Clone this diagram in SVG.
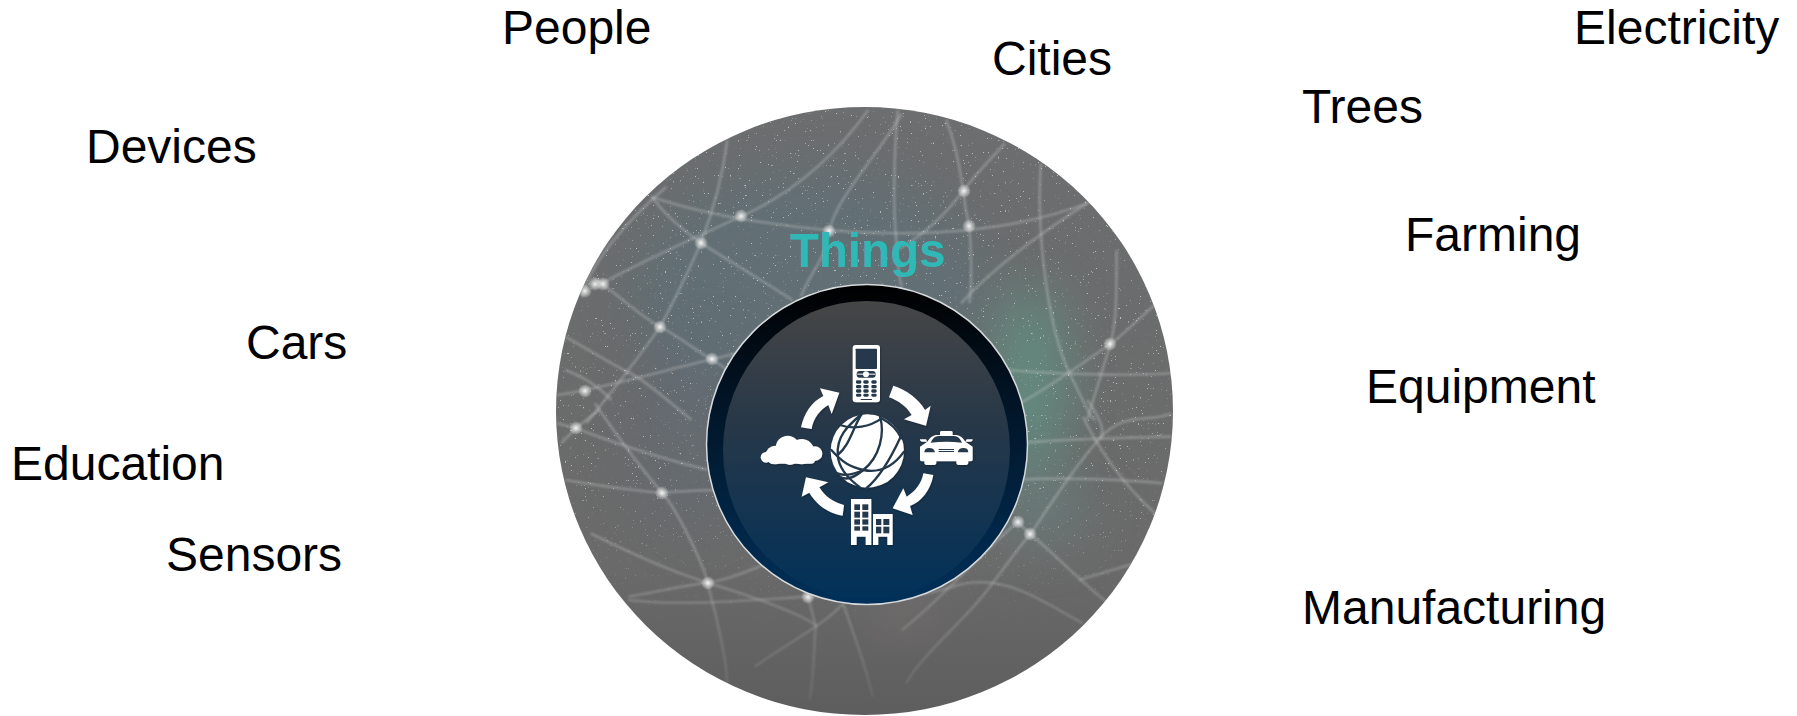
<svg xmlns="http://www.w3.org/2000/svg" width="1797" height="716" viewBox="0 0 1797 716">
<style>
.lbl{font-family:"Liberation Sans",Arial,sans-serif;font-size:48px;fill:#000}
.net{fill:none;stroke:#c8cacb;stroke-width:2.6;stroke-opacity:.36;vector-effect:non-scaling-stroke}
.ic{fill:#fff}
.dk{fill:#26394b}
.gl{fill:none;stroke:#24394c;stroke-width:7;stroke-linecap:round}
</style>
<defs>
<clipPath id="outerClip"><ellipse cx="864.5" cy="411" rx="308.5" ry="304"/></clipPath>
<linearGradient id="ringG" x1="0" y1="0" x2="0" y2="1"><stop offset="0" stop-color="#000"/><stop offset=".35" stop-color="#021425"/><stop offset="1" stop-color="#00305a"/></linearGradient>
<linearGradient id="discG" x1="0" y1="0" x2="0" y2="1"><stop offset="0" stop-color="#464646"/><stop offset=".4" stop-color="#283848"/><stop offset="1" stop-color="#013159"/></linearGradient>
<linearGradient id="baseG" x1="0" y1="0" x2="0" y2="1"><stop offset="0" stop-color="#6c6e6f"/><stop offset=".75" stop-color="#6a6a6a"/><stop offset="1" stop-color="#5d5d5d"/></linearGradient>
<linearGradient id="fadeG" x1="0" y1="0" x2="0" y2="1"><stop offset="0" stop-color="#fff"/><stop offset=".6" stop-color="#fff"/><stop offset=".85" stop-color="#000"/></linearGradient>
<linearGradient id="fade2G" x1="0" y1="0" x2="0" y2="1"><stop offset="0" stop-color="#fff"/><stop offset=".72" stop-color="#fff"/><stop offset="1" stop-color="#333"/></linearGradient>
<mask id="starMask"><rect x="550" y="100" width="630" height="620" fill="url(#fadeG)"/></mask>
<mask id="netMask"><rect x="550" y="100" width="630" height="620" fill="url(#fade2G)"/></mask>
<radialGradient id="dotG"><stop offset="0" stop-color="#fff" stop-opacity=".9"/><stop offset=".45" stop-color="#e8e8e8" stop-opacity=".6"/><stop offset="1" stop-color="#fff" stop-opacity="0"/></radialGradient>
<filter id="stars" x="0" y="0" width="1" height="1"><feTurbulence type="fractalNoise" baseFrequency=".6" numOctaves="2" seed="11"/><feColorMatrix type="matrix" values="0 0 0 0 1  0 0 0 0 1  0 0 0 0 1  7 7 0 0 -9.35"/></filter>
<filter id="b30" x="-60%" y="-60%" width="220%" height="220%"><feGaussianBlur stdDeviation="26"/></filter>
<filter id="b1"><feGaussianBlur stdDeviation=".8"/></filter>
<filter id="sh" x="-10%" y="-10%" width="125%" height="125%"><feDropShadow dx="2" dy="3" stdDeviation="3" flood-color="#000" flood-opacity=".3"/></filter>
<symbol id="dot" overflow="visible"><circle r="7" fill="url(#dotG)"/></symbol>
</defs>

<g id="outer-disc" clip-path="url(#outerClip)">
<rect x="550" y="100" width="630" height="620" fill="url(#baseG)"/>
<ellipse cx="810" cy="290" rx="180" ry="120" fill="#5f7178" opacity=".7" filter="url(#b30)"/>
<ellipse cx="1030" cy="385" rx="38" ry="100" fill="#5fa08c" opacity=".6" filter="url(#b30)"/>
<ellipse cx="690" cy="430" rx="60" ry="100" fill="#5e6c78" opacity=".4" filter="url(#b30)"/>
<ellipse cx="1040" cy="510" rx="50" ry="40" fill="#6c8f8a" opacity=".4" filter="url(#b30)"/>
<ellipse cx="905" cy="615" rx="35" ry="18" fill="#8a7878" opacity=".4" filter="url(#b30)"/>
<rect x="550" y="100" width="630" height="620" filter="url(#stars)" mask="url(#starMask)" opacity=".55"/>
<g mask="url(#netMask)" filter="url(#b1)">
<g transform="translate(540 90) scale(.4209 .3333)">
<path class="net" d="M265 320C400 380 650 430 850 430S1200 390 1310 335"/>
<path class="net" d="M445 150C430 300 400 400 382 458S300 680 285 710S200 860 110 1000"/>
<path class="net" d="M780 60C700 200 600 310 477 380S250 510 150 578"/>
<path class="net" d="M860 70C800 200 700 330 688 423S640 550 620 620"/>
<path class="net" d="M850 60C840 200 840 350 845 430S850 560 860 590"/>
<path class="net" d="M965 90C990 170 1000 250 1005 303S1020 408 1020 408S1030 560 1020 640"/>
<path class="net" d="M1105 160C1060 220 1030 260 1005 303S930 420 850 480"/>
<path class="net" d="M265 320C300 380 350 430 382 458S500 550 600 630"/>
<path class="net" d="M130 565C200 630 240 680 285 710S380 790 410 810S480 880 520 930"/>
<path class="net" d="M60 740C130 790 180 830 215 850S330 960 360 990"/>
<path class="net" d="M40 915C130 900 300 840 408 808S450 790 480 770"/>
<path class="net" d="M1190 220C1180 400 1200 700 1260 855S1310 980 1320 990"/>
<path class="net" d="M1370 480C1370 600 1370 700 1355 762S1310 950 1300 990"/>
<path class="net" d="M1460 645C1420 690 1380 740 1355 762S1200 900 1140 940"/>
<path class="net" d="M1300 340C1200 420 1080 530 1000 640"/>
<path class="net" d="M1110 840C1200 850 1400 860 1500 850"/>
<path class="net" d="M300 290C200 400 120 520 100 620"/>
<path class="net" d="M60 840C100 860 130 880 170 930"/>
</g>
<g transform="translate(540 400) scale(.4209 .3333)">
<path class="net" d="M40 70L85 85C200 140 300 180 400 210"/>
<path class="net" d="M130 10C190 120 250 220 290 278S390 500 398 548S440 730 445 850"/>
<path class="net" d="M50 130L85 85L140 30"/>
<path class="net" d="M60 240C150 260 250 275 290 278C330 275 380 270 430 270"/>
<path class="net" d="M120 400C200 450 300 510 398 548S620 640 660 680"/>
<path class="net" d="M210 590C300 570 350 555 398 548S500 510 540 490"/>
<path class="net" d="M210 600C350 620 500 600 637 590S860 610 980 560S1200 610 1290 670"/>
<path class="net" d="M637 590L655 680C650 750 650 850 640 900"/>
<path class="net" d="M720 610C750 720 780 820 790 890"/>
<path class="net" d="M720 610C680 670 600 720 510 800"/>
<path class="net" d="M1135 365C1000 520 950 600 860 690"/>
<path class="net" d="M1165 403C1230 470 1280 540 1350 610"/>
<path class="net" d="M1165 403C1130 450 1080 550 1030 620S900 780 870 850"/>
<path class="net" d="M1135 365L1165 403C1220 300 1270 200 1330 115S1450 70 1500 40"/>
<path class="net" d="M1290 50C1320 130 1380 250 1470 350"/>
<path class="net" d="M1130 240C1250 230 1400 240 1480 250"/>
<path class="net" d="M1140 130C1200 120 1330 115 1500 110"/>
<path class="net" d="M1300 0C1330 50 1345 100 1330 115"/>
<path class="net" d="M1280 540L1440 480"/>
</g>
</g>
<g id="net-dots">
<use href="#dot" x="741" y="216"/><use href="#dot" x="701" y="243"/><use href="#dot" x="829" y="231"/><use href="#dot" x="964" y="191"/>
<use href="#dot" x="969" y="226"/><use href="#dot" x="660" y="327"/><use href="#dot" x="712" y="359"/><use href="#dot" x="585" y="291"/>
<use href="#dot" x="595" y="284"/><use href="#dot" x="603" y="284"/><use href="#dot" x="585" y="391"/><use href="#dot" x="1110" y="344"/>
<use href="#dot" x="576" y="428"/><use href="#dot" x="662" y="493"/><use href="#dot" x="708" y="583"/><use href="#dot" x="808" y="597"/>
<use href="#dot" x="1018" y="522"/><use href="#dot" x="1030" y="534"/>
</g>
</g>

<g id="things-label"><text x="790" y="267" font-family="'Liberation Sans',Arial,sans-serif" font-size="47.5" font-weight="700" fill="#2fb8b6">Things</text></g>

<g id="inner-disc">
<ellipse cx="867" cy="444.5" rx="160.5" ry="160" fill="url(#ringG)" stroke="#d6dadc" stroke-width="1.5"/>
<ellipse cx="866.5" cy="450" rx="143.5" ry="149" fill="url(#discG)"/>
</g>

<g id="icons" transform="translate(690 270) scale(.33333)" filter="url(#sh)">
<g id="phone">
<rect class="ic" x="488" y="225" width="82" height="172" rx="9"/>
<rect class="dk" x="497" y="236" width="64" height="61" rx="2"/>
<rect class="dk" x="500" y="303" width="57" height="20" rx="9"/>
<circle class="ic" cx="528" cy="313" r="9"/><rect class="ic" x="502" y="311" width="54" height="3"/>
<g class="dk"><rect x="498" y="331" width="16" height="10" rx="4"/><rect x="520" y="331" width="16" height="10" rx="4"/><rect x="544" y="331" width="16" height="10" rx="4"/>
<rect x="498" y="345" width="16" height="10" rx="4"/><rect x="520" y="345" width="16" height="10" rx="4"/><rect x="544" y="345" width="16" height="10" rx="4"/>
<rect x="498" y="358" width="16" height="10" rx="4"/><rect x="520" y="358" width="16" height="10" rx="4"/><rect x="544" y="358" width="16" height="10" rx="4"/>
<rect x="498" y="371" width="16" height="9" rx="4"/><rect x="520" y="371" width="16" height="9" rx="4"/><rect x="544" y="371" width="16" height="9" rx="4"/>
<rect x="512" y="387" width="34" height="3"/></g>
</g>
<g id="arrows">
<path class="ic" d="M610 347C650 360 685 385 705 420L722 407L708 467L642 448L665 435C650 410 625 392 597 382Z"/>
<path class="ic" d="M730 615C722 660 695 695 660 708L668 735L608 715L640 655L650 680C675 665 695 640 700 610Z"/>
<path class="ic" d="M462 705L458 737C415 730 380 705 358 668L335 680L348 622L415 637L388 652C405 680 430 697 462 705Z"/>
<path class="ic" d="M333 472C342 430 365 395 400 378L390 355L448 368L425 432L415 405C390 420 370 445 365 477Z"/>
</g>
<g id="globe">
<circle class="ic" cx="532" cy="543" r="110"/>
<path class="gl" d="M515 432C470 470 440 500 443 555C446 600 480 630 510 652"/>
<path class="gl" d="M570 440C585 490 570 560 520 600C495 620 470 635 450 620"/>
<path class="gl" d="M450 465C490 480 540 470 575 445C595 455 620 475 634 505"/>
<path class="gl" d="M424 540C460 580 480 590 520 600C570 610 610 590 642 545"/>
<path class="gl" d="M632 500C600 570 570 620 530 654"/>
<path class="gl" d="M442 610C470 620 490 612 520 600"/>
<path class="gl" d="M443 555C480 525 490 470 515 432"/>
</g>
<g id="cloud" class="ic">
<circle cx="228" cy="562" r="16"/><circle cx="255" cy="555" r="28"/><circle cx="293" cy="533" r="36"/><circle cx="335" cy="545" r="38"/><circle cx="375" cy="551" r="22"/><circle cx="300" cy="560" r="25"/><rect x="235" y="555" width="140" height="26" rx="12"/>
</g>
<g id="car">
<path class="ic" d="M750 495V487Q750 483 755 483H783Q788 483 788 487V495H800Q815 497 826 515L848 530V570Q848 574 838 574H835V578Q835 585 825 585H808Q799 585 799 578V574H739V578Q739 585 730 585H712Q703 585 703 578V574H700Q690 574 690 570V530L712 515Q723 497 738 495Z"/>
<path class="ic" d="M690 508H708L712 515H695Q688 512 690 508ZM830 508H848Q850 512 843 515H826Z"/>
<path class="dk" d="M722 518Q730 499 745 498H793Q808 499 816 518Q769 513 722 518Z"/>
<path class="dk" d="M703 547Q703 534 718 534Q732 534 735 547ZM803 547Q806 534 820 534Q835 534 835 547Z"/>
<rect class="dk" x="746" y="537" width="46" height="3"/><rect class="dk" x="746" y="543" width="46" height="3"/>
</g>
<g id="buildings">
<path class="ic" d="M483 687H544V825H527V800H500V825H483Z"/>
<path class="ic" d="M549 732H608V825H592V800H565V825H549Z"/>
<g class="dk"><rect x="493" y="703" width="17" height="17"/><rect x="517" y="703" width="18" height="17"/><rect x="493" y="725" width="17" height="18"/><rect x="517" y="725" width="18" height="18"/><rect x="493" y="748" width="17" height="16"/><rect x="517" y="748" width="18" height="16"/><rect x="493" y="769" width="17" height="13"/><rect x="517" y="769" width="18" height="13"/>
<rect x="558" y="747" width="16" height="18"/><rect x="580" y="747" width="18" height="18"/><rect x="558" y="770" width="16" height="20"/><rect x="580" y="770" width="18" height="20"/></g>
</g>
</g>

<g id="label-people"><text class="lbl" x="502" y="44">People</text></g>
<g id="label-cities"><text class="lbl" x="992" y="75">Cities</text></g>
<g id="label-electricity"><text class="lbl" x="1574" y="44">Electricity</text></g>
<g id="label-trees"><text class="lbl" x="1302" y="123">Trees</text></g>
<g id="label-devices"><text class="lbl" x="86" y="163">Devices</text></g>
<g id="label-farming"><text class="lbl" x="1405" y="251">Farming</text></g>
<g id="label-cars"><text class="lbl" x="246" y="359">Cars</text></g>
<g id="label-equipment"><text class="lbl" x="1366" y="403">Equipment</text></g>
<g id="label-education"><text class="lbl" x="11" y="480">Education</text></g>
<g id="label-sensors"><text class="lbl" x="166" y="571">Sensors</text></g>
<g id="label-manufacturing"><text class="lbl" x="1302" y="624">Manufacturing</text></g>
<g id="connectors"/>
</svg>
